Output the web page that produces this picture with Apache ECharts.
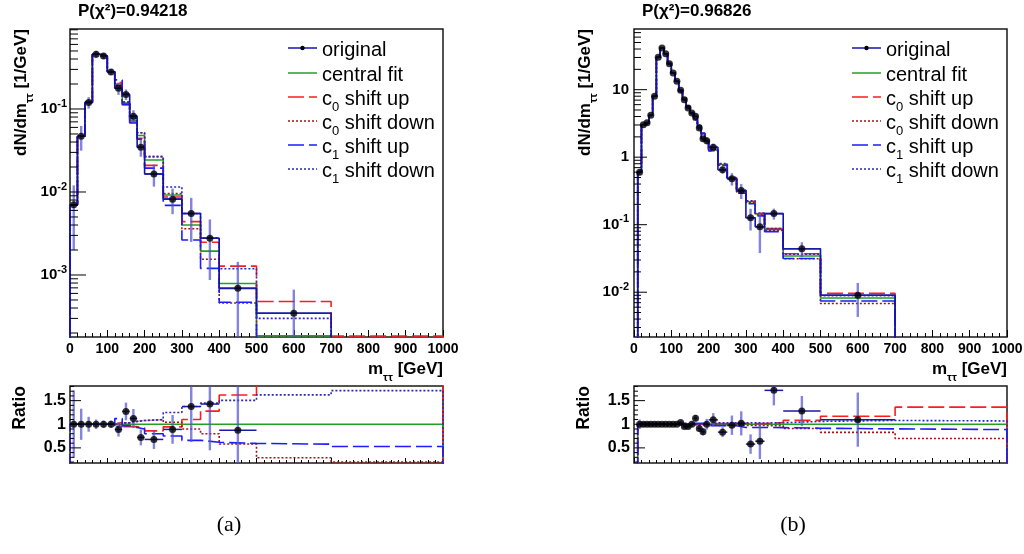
<!DOCTYPE html>
<html>
<head>
<meta charset="utf-8">
<script src="https://cdn.jsdelivr.net/npm/echarts@6/dist/echarts.min.js"></script>
<style>
  html, body { margin: 0; padding: 0; background: #fff; }
  #chart { width: 1024px; height: 554px; }
</style>
</head>
<body>
<div id="chart"></div>
<script>
// ---------------- data: panel (a) ----------------
const edgesA   = [0, 20, 40, 60, 80, 100, 120, 140, 160, 180, 200, 250, 300, 350, 400, 500, 700, 1000];
const origA    = [0.0070, 0.047, 0.12, 0.456, 0.435, 0.28, 0.178, 0.15, 0.082, 0.0346, 0.0165, 0.0082, 0.0055, 0.00277, 0.00069, 0.000346, 0];
const errA     = [0.005, 0.0155, 0.019, 0.046, 0.035, 0.022, 0.03, 0.022, 0.0146, 0.008, 0.0049, 0.0028, 0.003, 0.0019, 0.00075, 0.00032, 0];
const centralA = [0.0070, 0.047, 0.12, 0.456, 0.435, 0.28, 0.20, 0.118, 0.073, 0.048, 0.0243, 0.0092, 0.0040, 0.00194, 0.00079, 0.000185, 0.00008];
const c0UpA    = [0.0070, 0.047, 0.12, 0.456, 0.435, 0.28, 0.208, 0.112, 0.0694, 0.0442, 0.0209, 0.0087, 0.0044, 0.00248, 0.00128, 0.00048, 0.000184];
const c0DownA  = [0.0070, 0.047, 0.12, 0.456, 0.435, 0.28, 0.194, 0.1215, 0.0774, 0.0518, 0.0267, 0.0096, 0.0036, 0.00155, 0.00046, 0.000054, 0.000016];
const c1UpA    = [0.0070, 0.047, 0.12, 0.456, 0.435, 0.28, 0.224, 0.1145, 0.0679, 0.0432, 0.0194, 0.0069, 0.00264, 0.0012, 0.00047, 0.000107, 0.0000424];
const c1DownA  = [0.0070, 0.047, 0.12, 0.456, 0.435, 0.28, 0.19, 0.1215, 0.0774, 0.0518, 0.0267, 0.0115, 0.0055, 0.00281, 0.00119, 0.0003, 0.000137];

// ---------------- data: panel (b) ----------------
const edgesB   = [0, 10, 20, 30, 40, 50, 60, 70, 80, 90, 100, 110, 120, 130, 140, 150, 160, 170, 180, 190, 200, 225, 250, 275, 300, 325, 350, 400, 500, 700, 1000];
const origB    = [0, 0.60, 3.03, 3.24, 4.17, 7.98, 30.2, 41.5, 34.1, 24.3, 17.7, 13.3, 9.8, 7.1, 5.35, 4.52, 4.03, 2.71, 1.88, 1.75, 1.40, 0.65, 0.48, 0.32, 0.127, 0.093, 0.146, 0.044, 0.009, 0];
const errB     = [0, 0.06, 0.15, 0.15, 0.2, 0.3, 0.8, 0.9, 0.8, 0.6, 0.5, 0.4, 0.35, 0.3, 0.25, 0.24, 0.25, 0.2, 0.17, 0.2, 0.18, 0.08, 0.1, 0.08, 0.045, 0.055, 0.027, 0.011, 0.0047, 0];
const centralB = [0, 0.60, 3.03, 3.24, 4.17, 7.98, 30.2, 41.5, 34.1, 24.3, 17.7, 13.3, 9.47, 7.47, 5.63, 4.52, 3.57, 2.98, 2.24, 1.75, 1.28, 0.78, 0.49, 0.314, 0.219, 0.145, 0.085, 0.0344, 0.0082, 0.0008];
const c0UpB    = [0, 0.60, 3.03, 3.24, 4.17, 7.98, 30.2, 41.5, 34.1, 24.3, 17.7, 13.3, 9.47, 7.47, 5.63, 4.52, 3.57, 2.98, 2.24, 1.75, 1.299, 0.792, 0.497, 0.319, 0.222, 0.147, 0.088, 0.0372, 0.0096, 0.00109];
const c0DownB  = [0, 0.60, 3.03, 3.24, 4.17, 7.98, 30.2, 41.5, 34.1, 24.3, 17.7, 13.3, 9.38, 7.40, 5.57, 4.47, 3.53, 2.95, 2.22, 1.73, 1.248, 0.761, 0.478, 0.306, 0.2135, 0.141, 0.0825, 0.0313, 0.0068, 0.00056];
const c1UpB    = [0, 0.60, 3.03, 3.24, 4.17, 7.98, 30.2, 41.5, 34.1, 24.3, 17.7, 13.3, 9.66, 7.62, 5.74, 4.61, 3.64, 3.04, 2.28, 1.785, 1.242, 0.757, 0.475, 0.292, 0.204, 0.135, 0.079, 0.0315, 0.0074, 0.00071];
const c1DownB  = [0, 0.60, 3.03, 3.24, 4.17, 7.98, 30.2, 41.5, 34.1, 24.3, 17.7, 13.3, 9.38, 7.40, 5.57, 4.47, 3.53, 2.95, 2.22, 1.73, 1.318, 0.803, 0.505, 0.323, 0.2256, 0.149, 0.0876, 0.0365, 0.00886, 0.000856];

// ---------------- texts ----------------
const titles = ['P(\u03c7\u00b2)=0.94218', 'P(\u03c7\u00b2)=0.96826'];
const panelTags = ['(a)', '(b)'];
const legendLabels = ['original', 'central fit', 'c{s|0} shift up', 'c{s|0} shift down', 'c{s|1} shift up', 'c{s|1} shift down'];
const ratioLabels = [0.5, 1, 1.5];
const xTickStep = 100;

// ---------------- styling ----------------
const FONT = '"Liberation Sans", Arial, Helvetica, sans-serif';
const STYLES = {
  original: { color: '#1212b0', width: 1.6, dash: 'solid' },
  central:  { color: '#22a022', width: 1.6, dash: 'solid' },
  c0Up:     { color: '#ff1c1c', width: 1.6, dash: [16, 5] },
  c0Down:   { color: '#a31414', width: 1.6, dash: [2, 2] },
  c1Up:     { color: '#1c1cff', width: 1.6, dash: [16, 5] },
  c1Down:   { color: '#2a2ab8', width: 1.6, dash: [2, 2] }
};
const ERR_V = 'rgba(80,80,205,0.7)';
const ERR_H = '#1a1aa6';

const panels = [
  { edges: edgesA, orig: origA, err: errA, central: centralA, c0Up: c0UpA, c0Down: c0DownA, c1Up: c1UpA, c1Down: c1DownA,
    left: 70, yMin: 1.79e-4, yMax: 0.92, majorLen: 16, minorLen: 8, labelMargin: 3 },
  { edges: edgesB, orig: origB, err: errB, central: centralB, c0Up: c0UpB, c0Down: c0DownB, c1Up: c1UpB, c1Down: c1DownB,
    left: 634, yMin: 2.17e-3, yMax: 79.2, majorLen: 13, minorLen: 7, labelMargin: 5 }
];
const PLOT_W = 373, TOP_Y = 29, TOP_H = 308, RAT_Y = 386, RAT_H = 77;
const R_MIN = 0.18, R_MAX = 1.81;

// ---------------- helpers ----------------
function stepPoints(edges, vals, floor) {
  const pts = [[edges[0], floor]];
  for (let i = 0; i < vals.length; i++) {
    const v = vals[i] > 0 ? vals[i] : floor;
    pts.push([edges[i], v], [edges[i + 1], v]);
  }
  pts.push([edges[edges.length - 1], floor]);
  return pts;
}
function ratioOf(vals, central) {
  return vals.map((v, i) => (central[i] > 0 ? v / central[i] : 0));
}
function logTicks(min, max, majorLen, minorLen) {
  const out = [];
  for (let k = Math.floor(Math.log10(min)); k <= Math.ceil(Math.log10(max)); k++) {
    for (let m = 1; m <= 9; m++) {
      const v = m * Math.pow(10, k);
      if (v >= min && v <= max) out.push([0, v, m === 1 ? majorLen : minorLen]);
    }
  }
  return out;
}
function ratioTicks() {
  const out = [];
  for (let i = 2; i <= 18; i++) {
    const v = i / 10;
    if (v >= R_MIN && v <= R_MAX) out.push([0, v, i % 5 === 0 ? 11 : 4]);
  }
  return out;
}
function tickSeries(xi, data) {
  return {
    type: 'custom', xAxisIndex: xi, yAxisIndex: xi, z: 6, silent: true,
    encode: { x: 0, y: 1 },
    data: data,
    renderItem: (params, api) => {
      const cs = params.coordSys;
      const y = api.coord([0, api.value(1)])[1];
      return { type: 'line', shape: { x1: cs.x, y1: y, x2: cs.x + api.value(2), y2: y },
               style: { stroke: '#000', lineWidth: 1 } };
    }
  };
}
function errorSeries(xi, data) {
  return {
    type: 'custom', xAxisIndex: xi, yAxisIndex: xi, z: 4, silent: true,
    encode: { x: 0, y: 1 },
    data: data,
    renderItem: (params, api) => {
      const cs = params.coordSys;
      const clampY = y => Math.min(Math.max(y, cs.y), cs.y + cs.height);
      const xc = api.value(0), y = api.value(1);
      const pLo = api.coord([xc, api.value(4)]);
      const pHi = api.coord([xc, api.value(5)]);
      const pL = api.coord([api.value(2), y]);
      const pR = api.coord([api.value(3), y]);
      return { type: 'group', children: [
        { type: 'line', shape: { x1: pLo[0], y1: clampY(pLo[1]), x2: pHi[0], y2: clampY(pHi[1]) },
          style: { stroke: ERR_V, lineWidth: 2.4 } },
        { type: 'line', shape: { x1: pL[0], y1: pL[1], x2: pR[0], y2: pR[1] },
          style: { stroke: ERR_H, lineWidth: 1.5 } }
      ] };
    }
  };
}
function lineSeries(xi, pts, st, z) {
  return {
    type: 'line', xAxisIndex: xi, yAxisIndex: xi, data: pts, showSymbol: false, symbol: 'none',
    clip: true, z: z, silent: true,
    lineStyle: { color: st.color, width: st.width, type: st.dash }
  };
}

// ---------------- build option ----------------
const grids = [], xAxes = [], yAxes = [], series = [], graphics = [];
const tickLabelStyle = { color: '#000', fontFamily: FONT, fontWeight: 'bold' };
const subRich = { font: 'bold 11px ' + FONT, lineHeight: 11, verticalAlign: 'bottom' };

panels.forEach((p, pi) => {
  const ti = 2 * pi, ri = 2 * pi + 1;
  const floor = p.yMin / 100;
  grids.push(
    { left: p.left, top: TOP_Y, width: PLOT_W, height: TOP_H, show: true, borderColor: '#1a1a1a', borderWidth: 1.5, outerBoundsMode: 'none' },
    { left: p.left, top: RAT_Y, width: PLOT_W, height: RAT_H, show: true, borderColor: '#1a1a1a', borderWidth: 1.5, outerBoundsMode: 'none' }
  );
  [ti, ri].forEach(gi => {
    const isTop = gi === ti;
    xAxes.push({
      type: 'value', gridIndex: gi, min: 0, max: 1000, interval: xTickStep,
      axisLine: { show: false },
      axisTick: { show: true, inside: true, length: isTop ? 7 : 5, lineStyle: { color: '#000', width: 1 } },
      minorTick: { show: true, splitNumber: 5, length: isTop ? 4 : 3, lineStyle: { color: '#000', width: 1 } },
      splitLine: { show: false }, minorSplitLine: { show: false },
      axisLabel: isTop ? Object.assign({ show: true, fontSize: 14, margin: 5, showMaxLabel: true, showMinLabel: true,
                                         formatter: v => String(v) }, tickLabelStyle)
                       : { show: false }
    });
  });
  yAxes.push({
    type: 'log', logBase: 10, gridIndex: ti, min: p.yMin, max: p.yMax,
    axisLine: { show: false }, axisTick: { show: false }, splitLine: { show: false },
    axisLabel: {
      margin: p.labelMargin, color: '#000',
      formatter: v => {
        const e = Math.log10(v), k = Math.round(e);
        if (Math.abs(e - k) > 1e-6) return '';
        if (k >= 0) return '{b|' + Math.round(Math.pow(10, k)) + '}';
        return '{b|10}{s|' + k + '}';
      },
      rich: {
        b: { fontSize: 15, fontWeight: 'bold', fontFamily: FONT, color: '#000', lineHeight: 22 },
        s: { fontSize: 11, fontWeight: 'bold', fontFamily: FONT, color: '#000', lineHeight: 10, verticalAlign: 'top' }
      }
    }
  });
  yAxes.push({
    type: 'value', gridIndex: ri, min: R_MIN, max: R_MAX, splitNumber: 3,
    axisLine: { show: false }, axisTick: { show: false }, splitLine: { show: false },
    axisLabel: Object.assign({
      fontSize: 16, margin: 4, showMinLabel: false, showMaxLabel: false,
      formatter: v => (ratioLabels.some(r => Math.abs(r - v) < 1e-6) ? String(v) : '')
    }, tickLabelStyle)
  });

  // histograms, upper pad
  const order = ['central', 'c0Up', 'c0Down', 'c1Up', 'c1Down'];
  order.forEach((key, k) => series.push(lineSeries(ti, stepPoints(p.edges, p[key], floor), STYLES[key], 2 + k * 0.01)));
  series.push(lineSeries(ti, stepPoints(p.edges, p.orig, floor), STYLES.original, 2.1));

  // ratio pad
  order.forEach((key, k) => series.push(lineSeries(ri, stepPoints(p.edges, ratioOf(p[key], p.central), 0), STYLES[key], 2 + k * 0.01)));

  // data points with error bars
  const topPts = [], topErr = [], ratPts = [], ratErr = [];
  p.orig.forEach((v, i) => {
    if (!(v > 0)) return;
    const lo = p.edges[i], hi = p.edges[i + 1], xc = (lo + hi) / 2, e = p.err[i];
    topPts.push([xc, v]);
    topErr.push([xc, v, lo, hi, Math.max(v - e, floor), v + e]);
    if (p.central[i] > 0) {
      const r = v / p.central[i], re = e / p.central[i];
      if (r >= R_MIN && r <= R_MAX) {
        ratPts.push([xc, r]);
        ratErr.push([xc, r, lo, hi, r - re, r + re]);
      }
    }
  });
  series.push(errorSeries(ti, topErr), errorSeries(ri, ratErr));
  [[ti, topPts], [ri, ratPts]].forEach(([gi, pts]) => series.push({
    type: 'scatter', xAxisIndex: gi, yAxisIndex: gi, data: pts, symbol: 'circle', symbolSize: 7,
    itemStyle: { color: '#000' }, z: 5, clip: true, silent: true
  }));

  // axis ticks on the vertical axes
  series.push(tickSeries(ti, logTicks(p.yMin, p.yMax, p.majorLen, p.minorLen)));
  series.push(tickSeries(ri, ratioTicks()));

  // titles and axis names
  const yTitleX = pi === 0 ? 21 : 585;
  const ratioTitleX = pi === 0 ? 20 : 584;
  graphics.push(
    { type: 'text', x: p.left + 8, y: 11, silent: true,
      style: { text: titles[pi], font: 'bold 17px ' + FONT, fill: '#000', verticalAlign: 'middle' } },
    { type: 'text', x: yTitleX, y: TOP_Y, rotation: Math.PI / 2, silent: true,
      style: { text: '{m|dN/dm}{s|\u03c4\u03c4}{m| [1/GeV]}', align: 'right', verticalAlign: 'middle', fill: '#000',
               rich: { m: { font: 'bold 17px ' + FONT, lineHeight: 28 }, s: subRich } } },
    { type: 'text', x: p.left + PLOT_W, y: 369, silent: true,
      style: { text: '{m|m}{s|\u03c4\u03c4}{m| [GeV]}', align: 'right', verticalAlign: 'middle', fill: '#000',
               rich: { m: { font: 'bold 17px ' + FONT, lineHeight: 28 }, s: subRich } } },
    { type: 'text', x: ratioTitleX, y: RAT_Y, rotation: Math.PI / 2, silent: true,
      style: { text: 'Ratio', font: 'bold 17.5px ' + FONT, fill: '#000', align: 'right', verticalAlign: 'middle' } },
    { type: 'text', x: p.left + 159, y: 525, silent: true,
      style: { text: panelTags[pi], font: '22px "Liberation Serif", "DejaVu Serif", serif', fill: '#000', align: 'center', verticalAlign: 'middle' } }
  );

  // legend
  const legKeys = ['original', 'central', 'c0Up', 'c0Down', 'c1Up', 'c1Down'];
  const rows = [48, 73, 97, 121, 145, 169];
  const lx = p.left + 218, tx = p.left + 252;
  legKeys.forEach((key, k) => {
    const st = STYLES[key];
    graphics.push({ type: 'line', silent: true, shape: { x1: lx, y1: rows[k], x2: lx + 29, y2: rows[k] },
      style: { stroke: st.color, lineWidth: 1.5, lineDash: st.dash === 'solid' ? null : st.dash } });
    if (key === 'original') {
      graphics.push({ type: 'circle', silent: true, shape: { cx: lx + 14.5, cy: rows[k], r: 2.2 }, style: { fill: '#000' } });
    }
    graphics.push({ type: 'text', x: tx, y: rows[k] + 2, silent: true,
      style: { text: legendLabels[k], fill: '#000', verticalAlign: 'middle', font: '20px ' + FONT, lineHeight: 30,
               rich: { s: { font: '13px ' + FONT, lineHeight: 12, verticalAlign: 'bottom' } } } });
  });
});

const chart = echarts.init(document.getElementById('chart'), null, { renderer: 'canvas' });
chart.setOption({
  animation: false,
  backgroundColor: '#fff',
  grid: grids,
  xAxis: xAxes,
  yAxis: yAxes,
  series: series,
  graphic: graphics
});
</script>
</body>
</html>
